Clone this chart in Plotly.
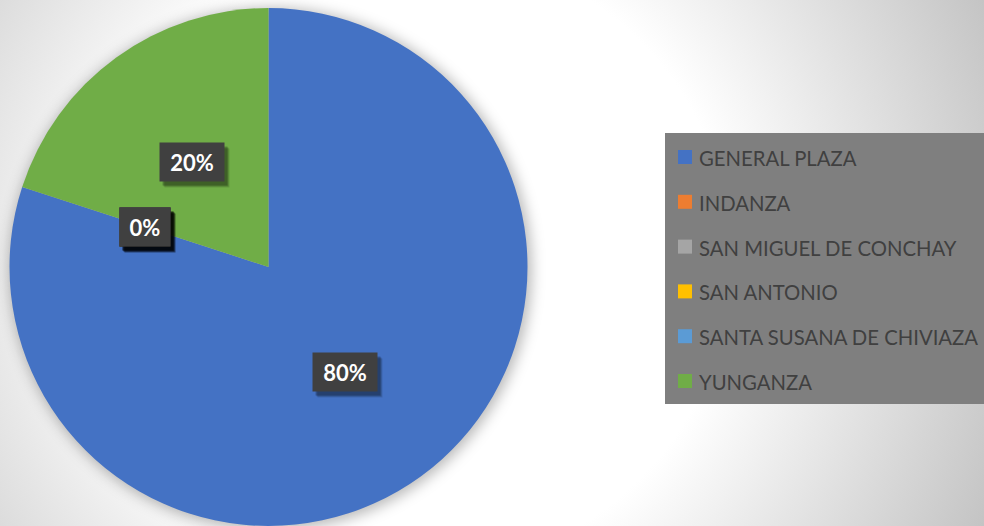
import base64
import math
import plotly.graph_objects as go

# ---- data ----
categories = ["GENERAL PLAZA", "INDANZA", "SAN MIGUEL DE CONCHAY",
              "SAN ANTONIO", "SANTA SUSANA DE CHIVIAZA", "YUNGANZA"]
shares = [80, 0, 0, 0, 0, 20]
colors = ["#4472c4", "#ed7d31", "#a5a5a5", "#ffc000", "#5b9bd5", "#70ad47"]

W, H = 984, 526
# pie placement (pixels)
dom_x = [0, 537 / W]
dom_y = [0, 518 / H]
R = min((dom_x[1] - dom_x[0]) * W, (dom_y[1] - dom_y[0]) * H) / 2
cx = (dom_x[0] + dom_x[1]) / 2 * W
cy = H - (dom_y[0] + dom_y[1]) / 2 * H  # from top

def px(x):
    return x / W

def py(y):
    return 1 - y / H

# background svg (radial gradient + soft pie shadow)
svg = f'''<svg xmlns="http://www.w3.org/2000/svg" width="{W}" height="{H}" viewBox="0 0 {W} {H}">
<defs>
<radialGradient id="g" gradientUnits="userSpaceOnUse" cx="420" cy="260" r="660">
<stop offset="0" stop-color="#ffffff"/><stop offset="0.47" stop-color="#ffffff"/>
<stop offset="1" stop-color="#bdbdbd"/></radialGradient>
<filter id="b" x="-20%" y="-20%" width="140%" height="140%"><feGaussianBlur stdDeviation="7"/></filter>
</defs>
<rect width="{W}" height="{H}" fill="url(#g)"/>
<circle cx="{cx + 2}" cy="{cy + 2}" r="{R + 2}" fill="#000" fill-opacity="0.28" filter="url(#b)"/>
</svg>'''
svg_uri = "data:image/svg+xml;base64," + base64.b64encode(svg.encode()).decode()

fig = go.Figure()
fig.add_trace(go.Pie(
    labels=categories, values=shares, sort=False, direction="clockwise",
    rotation=0, marker=dict(colors=colors, line=dict(width=0)),
    textinfo="none", domain=dict(x=dom_x, y=dom_y), showlegend=False,
    hovertemplate="%{label}: %{percent}<extra></extra>",
))

annotations = []
shapes = []

# data labels in dark boxes, placed at slice mid-angles
total = sum(shares)
cum = 0
for cat, v in zip(categories, shares):
    mid = (cum + v / 2) / total * 2 * math.pi
    cum += v
    r = 0.5 * R
    lx = cx + r * math.sin(mid)
    ly = cy - r * math.cos(mid)
    txt = f"{round(v / total * 100)}%"
    bw = 14 * len(txt) + 22
    for dx, dy, col in [(5, 6, "rgba(0,0,0,0.12)"), (4, 5, "rgba(0,0,0,0.18)"), (3, 4, "rgba(0,0,0,0.22)")]:
        annotations.append(dict(x=px(lx + dx), y=py(ly + dy), xref="paper", yref="paper",
                                xanchor="center", yanchor="middle",
                                text="", showarrow=False, width=bw, height=38,
                                bgcolor=col, borderpad=0))
    annotations.append(dict(x=px(lx), y=py(ly), xref="paper", yref="paper",
                            xanchor="center", yanchor="middle",
                            text=f"<b>{txt}</b>", showarrow=False, width=bw, height=38,
                            bgcolor="#404040", borderpad=0,
                            font=dict(family="Lato", size=22, color="#ffffff")))

# legend box
shapes.append(dict(type="rect", xref="paper", yref="paper", x0=px(665), x1=px(984),
                   y0=py(404), y1=py(133), fillcolor="#7f7f7f", line=dict(width=0), layer="below"))
for i, (cat, col) in enumerate(zip(categories, colors)):
    yc = 157 + i * 44.8
    shapes.append(dict(type="rect", xref="paper", yref="paper", x0=px(678), x1=px(692),
                       y0=py(yc + 7), y1=py(yc - 7), fillcolor=col, line=dict(width=0)))
    annotations.append(dict(x=px(697), y=py(yc + 1), xref="paper", yref="paper",
                            text=cat, showarrow=False, xanchor="left", yanchor="middle",
                            font=dict(family="Lato", size=20.3, color="#404040")))

fig.update_layout(
    width=W, height=H, margin=dict(l=0, r=0, t=0, b=0),
    paper_bgcolor="rgba(0,0,0,0)", plot_bgcolor="rgba(0,0,0,0)",
    images=[dict(source=svg_uri, xref="paper", yref="paper", x=0, y=1, sizex=1, sizey=1,
                 xanchor="left", yanchor="top", sizing="stretch", layer="below")],
    shapes=shapes, annotations=annotations, showlegend=False,
)

fig.write_html("out.html", config={"displayModeBar": False},
               post_script="document.body.style.margin='0';")
